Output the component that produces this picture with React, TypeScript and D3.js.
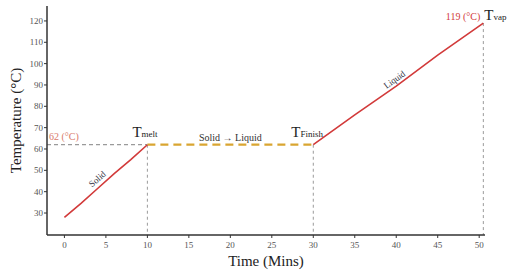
import React from "react";
import * as d3 from "d3";

const solidX = [0, 2, 4, 6, 8, 10];
const solidY = [28, 34.5, 41.5, 48.5, 55, 62];
const meltX = [10, 30];
const meltY = [62, 62];
const liquidX = [30, 35, 40, 45, 50.5];
const liquidY = [62, 76, 89.5, 104, 119];
const xTicks = [0, 5, 10, 15, 20, 25, 30, 35, 40, 45, 50];
const yTicks = [30, 40, 50, 60, 70, 80, 90, 100, 110, 120];
const markers = [
  { x: 10, y: 62, main: "T", sub: "melt" },
  { x: 30, y: 62, main: "T", sub: "Finish" },
  { x: 50.5, y: 119, main: "T", sub: "vap" },
];

const W = 509;
const H = 272;
const FONT = "'Liberation Serif', 'DejaVu Serif', serif";

export default function App() {
  const x = d3.scaleLinear().domain([-2.1, 50.7]).range([47, 485]);
  const y = d3.scaleLinear().domain([19.7, 127]).range([235, 6]);
  const line = d3
    .line<[number, number]>()
    .x((d) => x(d[0]))
    .y((d) => y(d[1]));
  const solid = solidX.map((v, i) => [v, solidY[i]] as [number, number]);
  const melt = meltX.map((v, i) => [v, meltY[i]] as [number, number]);
  const liquid = liquidX.map((v, i) => [v, liquidY[i]] as [number, number]);
  const x0 = x.range()[0];
  const yb = y.range()[0];

  const angle = (a: [number, number], b: [number, number]) =>
    (Math.atan2(y(b[1]) - y(a[1]), x(b[0]) - x(a[0])) * 180) / Math.PI;
  const solidAng = angle(solid[0], solid[solid.length - 1]);
  const liqAng = angle(liquid[0], liquid[liquid.length - 1]);
  const markerOffsets = [-15, -22, 1];

  return (
    <svg
      width={W}
      height={H}
      style={{ position: "absolute", left: 0, top: 0, background: "#fff" }}
      fontFamily={FONT}
    >
      <path
        d={line([[x.domain()[0], 62], [10, 62]])!}
        stroke="#9a9a9a"
        strokeWidth={1.2}
        strokeDasharray="4,3"
        fill="none"
      />
      {markers.map((m, i) => (
        <line
          key={i}
          x1={x(m.x)}
          x2={x(m.x)}
          y1={y(m.y)}
          y2={yb}
          stroke="#9a9a9a"
          strokeWidth={1}
          strokeDasharray="3,3"
        />
      ))}
      <path d={line(melt)!} stroke="#d9a531" strokeWidth={2.2} strokeDasharray="8,5" fill="none" />
      <path d={line(solid)!} stroke="#d23a3a" strokeWidth={1.6} fill="none" />
      <path d={line(liquid)!} stroke="#d23a3a" strokeWidth={1.6} fill="none" />

      <line x1={x0} x2={x0} y1={y.range()[1]} y2={yb} stroke="#333" strokeWidth={1.5} />
      <line x1={x0} x2={x.range()[1]} y1={yb} y2={yb} stroke="#333" strokeWidth={1.5} />
      {yTicks.map((t) => (
        <g key={t}>
          <line x1={x0 - 3} x2={x0} y1={y(t)} y2={y(t)} stroke="#333" strokeWidth={1} />
          <text x={x0 - 4} y={y(t)} dy="0.33em" textAnchor="end" fontSize={9} fill="#555">
            {t}
          </text>
        </g>
      ))}
      {xTicks.map((t) => (
        <g key={t}>
          <line x1={x(t)} x2={x(t)} y1={yb} y2={yb + 3} stroke="#333" strokeWidth={1} />
          <text x={x(t)} y={yb + 13} textAnchor="middle" fontSize={9} fill="#555">
            {t}
          </text>
        </g>
      ))}

      <text
        transform={`translate(21,${(y.range()[0] + y.range()[1]) / 2}) rotate(-90)`}
        textAnchor="middle"
        fontSize={15}
        fill="#222"
      >
        Temperature (°C)
      </text>
      <text x={(x.range()[0] + x.range()[1]) / 2} y={266} textAnchor="middle" fontSize={15} fill="#222">
        Time (Mins)
      </text>

      <text x={x0 + 2} y={y(62) - 5} fontSize={10} fill="#d97a6a">
        62 (°C)
      </text>
      <text x={x(50.5) - 3} y={y(119) - 3} textAnchor="end" fontSize={10} fill="#d23a3a">
        119 (°C)
      </text>
      {markers.map((m, i) => {
        const tx = x(m.x) + markerOffsets[i];
        const ty = i === 2 ? y(m.y) - 3 : y(m.y) - 8;
        return (
          <text key={i} x={tx} y={ty} fill="#222">
            <tspan fontSize={15}>{m.main}</tspan>
            <tspan fontSize={9}>{m.sub}</tspan>
          </text>
        );
      })}
      <text x={x(20)} y={y(62) - 4} textAnchor="middle" fontSize={10} fill="#333">
        Solid → Liquid
      </text>
      <text
        transform={`translate(${x(4.2)},${y(43) - 4}) rotate(${solidAng})`}
        textAnchor="middle"
        fontSize={9}
        fill="#334"
      >
        Solid
      </text>
      <text
        transform={`translate(${x(40)},${y(89.5) - 4}) rotate(${liqAng})`}
        textAnchor="middle"
        fontSize={9}
        fill="#334"
      >
        Liquid
      </text>
    </svg>
  );
}
